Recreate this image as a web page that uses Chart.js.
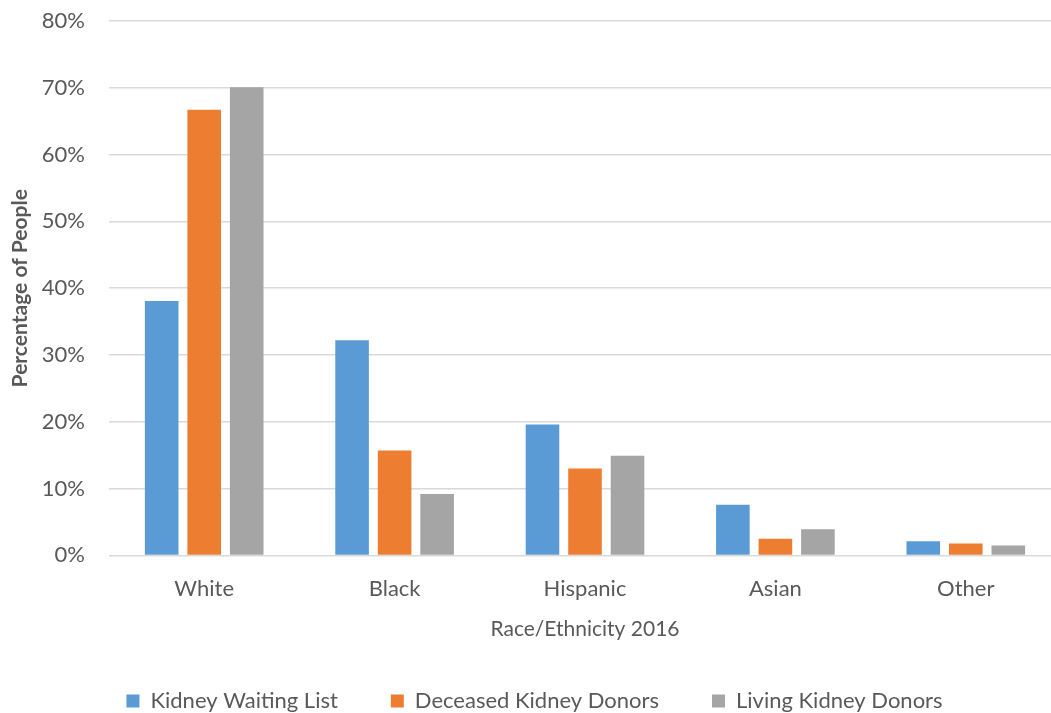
<!DOCTYPE html>
<html>
<head>
<meta charset="utf-8">
<script src="https://cdn.jsdelivr.net/npm/chart.js@4.4.1/dist/chart.umd.min.js"></script>
<style>
  html, body { margin: 0; padding: 0; background: #fff; overflow: hidden; }
  #wrap { width: 1072px; height: 713px; }
</style>
</head>
<body>
<div id="wrap"><canvas id="chart" width="1072" height="713"></canvas></div>
<script>
const categories = ['White', 'Black', 'Hispanic', 'Asian', 'Other'];
const seriesNames = ['Kidney Waiting List', 'Deceased Kidney Donors', 'Living Kidney Donors'];
const waitingList = [38.1, 32.2, 19.6, 7.6, 2.1];
const deceasedDonors = [66.7, 15.7, 13.0, 2.5, 1.8];
const livingDonors = [70.1, 9.2, 14.9, 3.9, 1.5];
const seriesColors = ['#5B9BD5', '#ED7D31', '#A5A5A5'];
const yMax = 80;
const yStep = 10;

const textColor = '#595959';
const fontFamily = 'Lato, "Open Sans", sans-serif';

const values = [waitingList, deceasedDonors, livingDonors];
const datasets = seriesNames.map(function(name, i) {
    return {
        label: name,
        data: values[i],
        backgroundColor: seriesColors[i],
        borderWidth: 0,
        categoryPercentage: 0.67,
        barPercentage: 0.79
    };
});

const ctx = document.getElementById('chart');
const chart = new Chart(ctx, {
    type: 'bar',
    data: {
        labels: categories,
        datasets: datasets
    },
    options: {
        responsive: false,
        animation: false,
        layout: {
            padding: { left: 8, right: 11, top: 21, bottom: -9 }
        },
        scales: {
            x: {
                grid: { display: false },
                border: { display: false },
                ticks: {
                    color: textColor,
                    padding: 12,
                    font: { family: fontFamily, size: 22 }
                },
                title: {
                    display: true,
                    text: 'Race/Ethnicity 2016',
                    color: textColor,
                    padding: { top: 0, bottom: -5 },
                    font: { family: fontFamily, size: 21 }
                },
                afterFit: function(scale) { scale.height = scale.height + 3; }
            },
            y: {
                min: 0,
                max: yMax,
                grid: { color: '#d9d9d9', lineWidth: 1.5, drawTicks: false },
                border: { display: false },
                ticks: {
                    stepSize: yStep,
                    color: textColor,
                    padding: 24,
                    font: { family: fontFamily, size: 22 },
                    callback: function(v) { return v + '%'; }
                },
                title: {
                    display: true,
                    text: 'Percentage of People',
                    color: textColor,
                    padding: { top: 0, bottom: 0 },
                    font: { family: fontFamily, size: 21, weight: 'bold' }
                },
                afterFit: function(scale) {
                    scale.width = 101;
                    scale.paddingTop = 0;
                    scale.paddingBottom = 0;
                }
            }
        },
        plugins: {
            legend: {
                position: 'bottom',
                labels: {
                    color: textColor,
                    boxWidth: 13,
                    boxHeight: 13,
                    padding: 53,
                    font: { family: fontFamily, size: 22 }
                }
            },
            tooltip: { enabled: false }
        }
    }
});
</script>
</body>
</html>
